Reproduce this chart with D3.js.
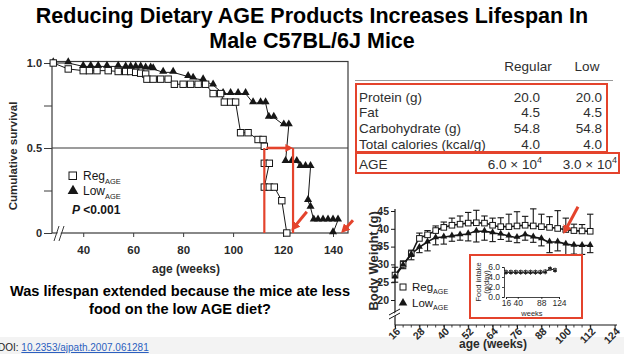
<!DOCTYPE html>
<html><head><meta charset="utf-8">
<script src="https://cdn.jsdelivr.net/npm/d3@7"></script>
<style>
body{margin:0;background:#fff;}
svg{display:block;font-family:"Liberation Sans",Arial,sans-serif;}
</style></head><body>
<svg id="chart" width="624" height="354"></svg>
<script>
// ---------- data ----------
const TITLE_LINES = ["Reducing Dietary AGE Products Increases Lifespan In", "Male C57BL/6J Mice"];
const QUESTION_LINES = ["Was lifespan extended because the mice ate less", "food on the low AGE diet?"];

// survival [week, fraction]
const SURV_REG = [[28,1.0],[34,0.965],[40,0.955],[42.5,0.955],[45.5,0.955],[50,0.955],[54,0.95],[57,0.95],[59,0.95],[61,0.945],[63,0.94],[65,0.935],[65.5,0.905],[68,0.905],[71,0.905],[74,0.905],[76.5,0.875],[80,0.875],[83,0.875],[86,0.875],[89,0.875],[92,0.82],[95,0.82],[96.5,0.77],[99,0.77],[101,0.77],[103,0.59],[106,0.59],[110,0.55],[112,0.55],[112.5,0.51],[112.5,0.41],[114.5,0.41],[112.5,0.27],[114.5,0.27],[116.5,0.27],[119.5,0.19],[121.5,0.0]];
const SURV_LOW = [[28,1.0],[34,1.0],[40,0.98],[43,0.98],[46,0.98],[49.5,0.98],[54,0.98],[57,0.975],[59,0.975],[61,0.975],[63,0.975],[65,0.97],[67,0.97],[68,0.965],[72,0.945],[76,0.945],[82,0.92],[84,0.91],[88,0.9],[92,0.87],[96,0.82],[99,0.82],[102,0.82],[105,0.82],[108,0.765],[111,0.765],[113,0.765],[114.3,0.68],[116.3,0.68],[120.3,0.635],[122.3,0.635],[121,0.42],[123.5,0.42],[125.5,0.42],[127,0.39],[129,0.39],[131,0.39],[130,0.19],[131,0.15],[132.3,0.076],[134,0.076],[136,0.076],[138,0.076],[140,0.076],[142,0.076],[140,0.0]];
const SURV_X_TICKS = [40, 60, 80, 100, 120, 140];
const SURV_Y_TICKS = [0, 0.25, 0.5, 0.75, 1];
const SURV_Y_LABELS = ["0", "", "0.5", "", "1.0"];
const MEDIAN_REG = 112.5, MEDIAN_LOW = 124;

// diet table
const TABLE_HEAD = ["Regular", "Low"];
const TABLE_ROWS = ["Protein (g)", "Fat", "Carbohydrate (g)", "Total calories (kcal/g)"];
const TABLE_REG = ["20.0", "4.5", "54.8", "4.0"];
const TABLE_LOW = ["20.0", "4.5", "54.8", "4.0"];
const AGE_ROW = ["AGE", "6.0", "3.0"];

// body weight (g)
const BW_WEEKS = [16,20,24,28,32,36,40,44,48,52,56,60,64,68,72,76,80,84,88,92,96,100,104,108,112];
const BW_REG = [27.0,30.0,33.0,37.3,38.3,39.5,40.4,41.0,41.3,41.6,41.7,41.6,41.0,40.6,40.6,40.8,41.0,40.8,40.6,40.4,40.1,39.8,39.5,39.4,39.3];
const BW_REG_ERR = [2.2,1.0,1.0,1.5,1.2,1.3,1.5,2.0,2.3,3.0,3.5,2.0,2.0,2.5,3.5,4.0,2.5,4.8,3.5,3.0,5.0,3.2,1.8,1.8,4.8];
const BW_LOW = [26.5,29.8,32.8,34.8,36.3,37.5,37.7,38.0,38.3,38.6,39.3,39.3,38.9,38.5,38.0,37.6,38.3,37.7,37.2,36.3,36.3,35.7,35.4,35.3,35.3];
const BW_LOW_ERR = [1.5,1.0,1.5,1.5,2.5,2.0,2.0,1.5,1.5,2.0,3.0,2.5,2.5,1.5,1.5,1.5,1.5,1.5,2.0,3.0,2.5,3.0,2.5,2.5,2.0];
const BW_X_TICKS = [16,28,40,52,64,76,88,100,112,124];
const BW_Y_TICKS = [20,25,30,35,40,45];

// food intake inset (g/day)
const FOOD_WEEKS = [16,26,36,46,56,66,76,86,96,106,116];
const FOOD_REG = [5.0,5.0,5.0,5.0,5.0,5.0,5.0,5.0,5.1,5.6,5.4];
const FOOD_LOW = [4.9,4.9,4.9,4.9,4.9,4.9,4.9,4.9,5.0,5.7,5.3];
const FOOD_X_TICKS = [16,40,88,124];
const FOOD_Y_TICKS = [0,2,4,6];

// ---------- setup ----------
const svg = d3.select("#chart");
const RED = "#e4432c", INK = "#161616", FONT = "'Liberation Sans', Arial, sans-serif";

svg.append("defs").append("marker")
  .attr("id", "arrow").attr("viewBox", "0 0 10 10")
  .attr("refX", 6).attr("refY", 5)
  .attr("markerWidth", 3).attr("markerHeight", 3)
  .attr("orient", "auto")
  .append("path").attr("d", "M0,0L10,5L0,10z").attr("fill", RED);

svg.append("rect").attr("width", 624).attr("height", 354).attr("fill", "#fff");
svg.append("rect").attr("y", 337).attr("width", 624).attr("height", 17).attr("fill", "#f3f3f3");

const tri = d3.symbol().type(d3.symbolTriangle);

function subLabel(g, x, y, main, sub, size) {
  const t = g.append("text").attr("x", x).attr("y", y).attr("font-size", size).attr("fill", INK);
  t.append("tspan").text(main);
  t.append("tspan").attr("font-size", size * 0.62).attr("dy", size * 0.3).text(sub);
  return t;
}

// ---------- title ----------
TITLE_LINES.forEach((t, i) => {
  svg.append("text").attr("x", 312).attr("y", 23 + i * 25)
    .attr("text-anchor", "middle").attr("font-weight", "bold")
    .attr("font-size", 21.5).attr("fill", "#000").text(t);
});

// ---------- survival ----------
const sx = d3.scaleLinear().domain([27.5, 146]).range([52, 348]);
const sy = d3.scaleLinear().domain([0, 1]).range([233, 63]);
const gS = svg.append("g");

gS.append("rect").attr("x", sx.range()[0]).attr("y", sy(1) - 1.5)
  .attr("width", sx.range()[1] - sx.range()[0]).attr("height", sy(0) - sy(1) + 1.5)
  .attr("fill", "none").attr("stroke", "#3a3a3a").attr("stroke-width", 1.2);
gS.append("line").attr("x1", sx.range()[0]).attr("x2", sx.range()[1])
  .attr("y1", sy(0.5)).attr("y2", sy(0.5)).attr("stroke", "#3a3a3a").attr("stroke-width", 1.1);

const sYAx = gS.append("g").attr("transform", `translate(${sx.range()[0]},0)`)
  .call(d3.axisLeft(sy).tickValues(SURV_Y_TICKS).tickSize(8).tickPadding(2)
    .tickFormat((d, i) => SURV_Y_LABELS[i]));
sYAx.select(".domain").remove();
sYAx.attr("font-family", FONT);
sYAx.selectAll("line").attr("stroke", "#3a3a3a");
sYAx.selectAll("text").attr("font-size", 11).attr("font-weight", "bold").attr("fill", "#2a2a2a");

const sXAx = gS.append("g").attr("transform", `translate(0,${sy(0)})`)
  .call(d3.axisBottom(sx).tickValues(SURV_X_TICKS).tickSize(4).tickPadding(9));
sXAx.select(".domain").remove();
sXAx.attr("font-family", FONT);
sXAx.selectAll("line").attr("stroke", "#3a3a3a");
sXAx.selectAll("text").attr("font-size", 11.5).attr("font-weight", "bold").attr("fill", "#2a2a2a");

// axis break
gS.append("polygon").attr("points", `55,241 60,226 63,226 58,241`).attr("fill", "#fff");
[[54, 59], [59, 64]].forEach(([a, b]) => {
  gS.append("line").attr("x1", a).attr("y1", 241).attr("x2", b).attr("y2", 226)
    .attr("stroke", "#3a3a3a").attr("stroke-width", 1);
});

gS.append("text").attr("transform", `translate(17,${sy(0.5) + 8}) rotate(-90)`)
  .attr("text-anchor", "middle").attr("font-size", 11.5).attr("font-weight", "bold")
  .attr("fill", "#2a2a2a").text("Cumulative survival");
gS.append("text").attr("x", 186).attr("y", 273).attr("text-anchor", "middle")
  .attr("font-size", 12).attr("font-weight", "bold").attr("fill", "#2a2a2a").text("age (weeks)");

const sLine = d3.line().x(d => sx(d[0])).y(d => sy(d[1]));
[SURV_REG, SURV_LOW].forEach(s => {
  gS.append("path").attr("d", sLine(s)).attr("fill", "none").attr("stroke", INK).attr("stroke-width", 1);
});
gS.selectAll("path.tri").data(SURV_LOW).join("path").attr("class", "tri")
  .attr("d", tri.size(28)).attr("transform", d => `translate(${sx(d[0])},${sy(d[1]) - 1})`)
  .attr("fill", INK);
gS.selectAll("rect.sq").data(SURV_REG).join("rect").attr("class", "sq")
  .attr("x", d => sx(d[0]) - 3.2).attr("y", d => sy(d[1]) - 3.2)
  .attr("width", 6.4).attr("height", 6.4)
  .attr("fill", "#fff").attr("stroke", INK).attr("stroke-width", 1);

// legend
gS.append("rect").attr("x", 69).attr("y", 172).attr("width", 7.5).attr("height", 7.5)
  .attr("fill", "#fff").attr("stroke", INK).attr("stroke-width", 1);
subLabel(gS, 83, 180, "Reg", "AGE", 12);
gS.append("path").attr("d", tri.size(50)).attr("transform", "translate(73,191)").attr("fill", INK);
subLabel(gS, 83, 195, "Low", "AGE", 12);
const pTxt = gS.append("text").attr("x", 72).attr("y", 214).attr("font-size", 12)
  .attr("font-weight", "bold").attr("fill", INK);
pTxt.append("tspan").attr("font-style", "italic").text("P");
pTxt.append("tspan").text(" <0.001");

// red annotations
const gR = gS.append("g").attr("stroke", RED).attr("fill", "none");
[MEDIAN_REG, MEDIAN_LOW].forEach(m => {
  gR.append("line").attr("x1", sx(m)).attr("x2", sx(m)).attr("y1", sy(0.5)).attr("y2", sy(0))
    .attr("stroke-width", 2.2);
});
gR.append("line").attr("x1", sx(MEDIAN_REG) + 2).attr("x2", sx(MEDIAN_LOW) - 3)
  .attr("y1", sy(0.5)).attr("y2", sy(0.5)).attr("stroke-width", 2.6).attr("marker-end", "url(#arrow)");
gR.append("line").attr("x1", sx(129.5)).attr("y1", sy(0.125)).attr("x2", sx(124.2)).attr("y2", sy(0.03))
  .attr("stroke-width", 3).attr("marker-end", "url(#arrow)");
gR.append("line").attr("x1", sx(148)).attr("y1", sy(0.075)).attr("x2", sx(144.2)).attr("y2", sy(0.015))
  .attr("stroke-width", 3).attr("marker-end", "url(#arrow)");

// ---------- table ----------
const gT = svg.append("g").attr("font-family", FONT)
  .attr("fill", "#2e2e2e").attr("font-size", 13.5);
const colReg = 540, colLow = 602;
gT.append("text").attr("x", 528).attr("y", 71).attr("text-anchor", "middle").text(TABLE_HEAD[0]);
gT.append("text").attr("x", 587).attr("y", 71).attr("text-anchor", "middle").text(TABLE_HEAD[1]);
gT.append("line").attr("x1", 355).attr("x2", 613).attr("y1", 80.5).attr("y2", 80.5)
  .attr("stroke", "#9a9a9a").attr("stroke-width", 1);
TABLE_ROWS.forEach((r, i) => {
  const y = 101.5 + i * 15.9;
  gT.append("text").attr("x", 359).attr("y", y).text(r);
  gT.append("text").attr("x", colReg).attr("y", y).attr("text-anchor", "end").text(TABLE_REG[i]);
  gT.append("text").attr("x", colLow).attr("y", y).attr("text-anchor", "end").text(TABLE_LOW[i]);
});
gT.append("text").attr("x", 359).attr("y", 169).text(AGE_ROW[0]);
[[AGE_ROW[1], 542], [AGE_ROW[2], 617]].forEach(([v, x]) => {
  const t = gT.append("text").attr("x", x).attr("y", 169).attr("text-anchor", "end");
  t.append("tspan").text(v + " \u00d7 10");
  t.append("tspan").attr("font-size", 9).attr("dy", -6).text("4");
});
gT.append("rect").attr("x", 356).attr("y", 84).attr("width", 251).attr("height", 68)
  .attr("fill", "none").attr("stroke", RED).attr("stroke-width", 2);
gT.append("rect").attr("x", 356).attr("y", 153).attr("width", 263).attr("height", 20)
  .attr("fill", "none").attr("stroke", RED).attr("stroke-width", 2);

// ---------- body weight ----------
const bx = d3.scaleLinear().domain([16, 124]).range([395, 614.6]);
const by = d3.scaleLinear().domain([20, 45]).range([300, 211]);
const gB = svg.append("g");
const bBase = 325;

gB.append("line").attr("x1", bx(16)).attr("x2", bx(16)).attr("y1", by(45) - 2).attr("y2", bBase)
  .attr("stroke", INK).attr("stroke-width", 1.2);
gB.append("line").attr("x1", bx(16)).attr("x2", 617).attr("y1", bBase).attr("y2", bBase)
  .attr("stroke", INK).attr("stroke-width", 1.2);
gB.append("polygon").attr("points", "392,316 398,310 398,313 392,319").attr("fill", "#fff");
[312, 316].forEach(y => {
  gB.append("line").attr("x1", 389).attr("y1", y + 3).attr("x2", 400).attr("y2", y - 3)
    .attr("stroke", INK).attr("stroke-width", 1);
});

const bYAx = gB.append("g").attr("transform", `translate(${bx(16)},0)`)
  .call(d3.axisLeft(by).tickValues(BW_Y_TICKS).tickSize(4).tickPadding(2));
bYAx.select(".domain").remove();
bYAx.attr("font-family", FONT);
bYAx.selectAll("line").attr("stroke", INK);
bYAx.selectAll("text").attr("font-size", 10.5).attr("font-weight", "bold").attr("fill", "#2a2a2a");

const bXAx = gB.append("g").attr("transform", `translate(0,${bBase})`)
  .call(d3.axisBottom(bx).tickValues(BW_X_TICKS).tickSize(4));
bXAx.select(".domain").remove();
bXAx.attr("font-family", FONT);
bXAx.selectAll("line").attr("stroke", INK);
bXAx.selectAll("text").attr("x", 0).attr("y", 0).attr("dy", null)
  .attr("transform", "translate(5.5,7) rotate(-45)").attr("text-anchor", "end")
  .attr("font-size", 10.5).attr("font-weight", "bold").attr("fill", "#2a2a2a");
gB.selectAll("line.minor").data(BW_WEEKS).join("line").attr("class", "minor")
  .attr("x1", d => bx(d)).attr("x2", d => bx(d)).attr("y1", bBase).attr("y2", bBase + 2.5)
  .attr("stroke", INK).attr("stroke-width", 0.8);

gB.append("text").attr("transform", `translate(378,${by(31)}) rotate(-90)`)
  .attr("text-anchor", "middle").attr("font-size", 13).attr("font-weight", "bold")
  .attr("fill", "#2a2a2a").text("Body Weight (g)");
gB.append("text").attr("x", 493).attr("y", 348).attr("text-anchor", "middle")
  .attr("font-size", 12).attr("font-weight", "bold").attr("fill", "#2a2a2a").text("age (weeks)");

const bLine = d3.line().x((d, i) => bx(BW_WEEKS[i])).y(d => by(d)).curve(d3.curveMonotoneX);
gB.append("path").attr("d", bLine(BW_REG)).attr("fill", "none").attr("stroke", INK).attr("stroke-width", 1.6);
gB.append("path").attr("d", bLine(BW_LOW)).attr("fill", "none").attr("stroke", INK).attr("stroke-width", 1.6);

// error bars: regular up, low down
const errs = [[BW_REG, BW_REG_ERR, 1], [BW_LOW, BW_LOW_ERR, -1]];
errs.forEach(([vals, err, dir]) => {
  vals.forEach((v, i) => {
    const x = bx(BW_WEEKS[i]), y1 = by(v), y2 = by(v + dir * err[i]);
    gB.append("line").attr("x1", x).attr("x2", x).attr("y1", y1).attr("y2", y2)
      .attr("stroke", INK).attr("stroke-width", 1.1);
    gB.append("line").attr("x1", x - 3.2).attr("x2", x + 3.2).attr("y1", y2).attr("y2", y2)
      .attr("stroke", INK).attr("stroke-width", 1.1);
  });
});
gB.selectAll("rect.bsq").data(BW_REG).join("rect").attr("class", "bsq")
  .attr("x", (d, i) => bx(BW_WEEKS[i]) - 2.8).attr("y", d => by(d) - 2.8)
  .attr("width", 5.6).attr("height", 5.6).attr("fill", "#fff").attr("stroke", INK).attr("stroke-width", 1);
gB.selectAll("path.btri").data(BW_LOW).join("path").attr("class", "btri")
  .attr("d", tri.size(20)).attr("transform", (d, i) => `translate(${bx(BW_WEEKS[i])},${by(d) - 0.5})`)
  .attr("fill", INK);

gB.append("rect").attr("x", 400).attr("y", 284).attr("width", 6).attr("height", 6)
  .attr("fill", "#fff").attr("stroke", INK).attr("stroke-width", 1);
subLabel(gB, 412, 291, "Reg", "AGE", 11.5);
gB.append("path").attr("d", tri.size(32)).attr("transform", "translate(403,303)").attr("fill", INK);
subLabel(gB, 412, 307, "Low", "AGE", 11.5);

gB.append("line").attr("x1", bx(106)).attr("y1", by(46.2)).attr("x2", bx(99.6)).attr("y2", by(39.4))
  .attr("stroke", RED).attr("stroke-width", 3).attr("marker-end", "url(#arrow)");

// ---------- food intake inset ----------
const gI = svg.append("g");
gI.append("rect").attr("x", 470).attr("y", 255).attr("width", 112).attr("height", 63)
  .attr("fill", "#fff").attr("stroke", RED).attr("stroke-width", 2);
const ix = d3.scaleLinear().domain([16, 124]).range([506, 559]);
const iy = d3.scaleLinear().domain([0, 6]).range([297, 267]);
const iYAx = gI.append("g").attr("transform", `translate(${ix(16) - 2},0)`)
  .call(d3.axisLeft(iy).tickValues(FOOD_Y_TICKS).tickSize(2).tickPadding(2));
const iXAx = gI.append("g").attr("transform", `translate(0,${iy(0)})`)
  .call(d3.axisBottom(ix).tickValues(FOOD_X_TICKS).tickSize(2).tickPadding(1));
[iYAx, iXAx].forEach(a => {
  a.attr("font-family", FONT);
  a.select(".domain").attr("stroke", INK).attr("stroke-width", 0.8);
  a.selectAll("line").attr("stroke", INK).attr("stroke-width", 0.8);
  a.selectAll("text").attr("font-size", 8.5).attr("fill", "#2a2a2a");
});
gI.append("text").attr("transform", `translate(481,${iy(3)}) rotate(-90)`)
  .attr("text-anchor", "middle").attr("font-size", 7.5).attr("fill", "#2a2a2a").text("Food intake");
gI.append("text").attr("transform", `translate(489,${iy(3)}) rotate(-90)`)
  .attr("text-anchor", "middle").attr("font-size", 7.5).attr("fill", "#2a2a2a").text("(g/day)");
gI.append("text").attr("x", 532).attr("y", 315.5).attr("text-anchor", "middle")
  .attr("font-size", 7.5).attr("fill", "#2a2a2a").text("weeks");
const iLine = d3.line().x((d, i) => ix(FOOD_WEEKS[i])).y(d => iy(d));
[FOOD_REG, FOOD_LOW].forEach(s => {
  gI.append("path").attr("d", iLine(s)).attr("fill", "none").attr("stroke", INK).attr("stroke-width", 0.8);
});
FOOD_REG.forEach((v, i) => {
  const x = ix(FOOD_WEEKS[i]);
  gI.append("line").attr("x1", x).attr("x2", x).attr("y1", iy(v + 0.5)).attr("y2", iy(FOOD_LOW[i] - 0.5))
    .attr("stroke", INK).attr("stroke-width", 0.7);
});
gI.selectAll("rect.isq").data(FOOD_REG).join("rect").attr("class", "isq")
  .attr("x", (d, i) => ix(FOOD_WEEKS[i]) - 1.5).attr("y", d => iy(d) - 1.5)
  .attr("width", 3).attr("height", 3).attr("fill", "#fff").attr("stroke", INK).attr("stroke-width", 0.6);
gI.selectAll("path.itri").data(FOOD_LOW).join("path").attr("class", "itri")
  .attr("d", tri.size(7)).attr("transform", (d, i) => `translate(${ix(FOOD_WEEKS[i])},${iy(d)})`)
  .attr("fill", INK);

// ---------- question + doi ----------
QUESTION_LINES.forEach((t, i) => {
  svg.append("text").attr("x", 180).attr("y", 296 + i * 18).attr("text-anchor", "middle")
    .attr("font-weight", "bold").attr("font-size", 14.6).attr("fill", "#000").text(t);
});
const doi = svg.append("text").attr("x", -2).attr("y", 351).attr("font-size", 10).attr("fill", "#222");
doi.append("tspan").text("DOI: ");
doi.append("tspan").attr("fill", "#2b5fc0").attr("text-decoration", "underline").text("10.2353/ajpath.2007.061281");
</script>
</body></html>
